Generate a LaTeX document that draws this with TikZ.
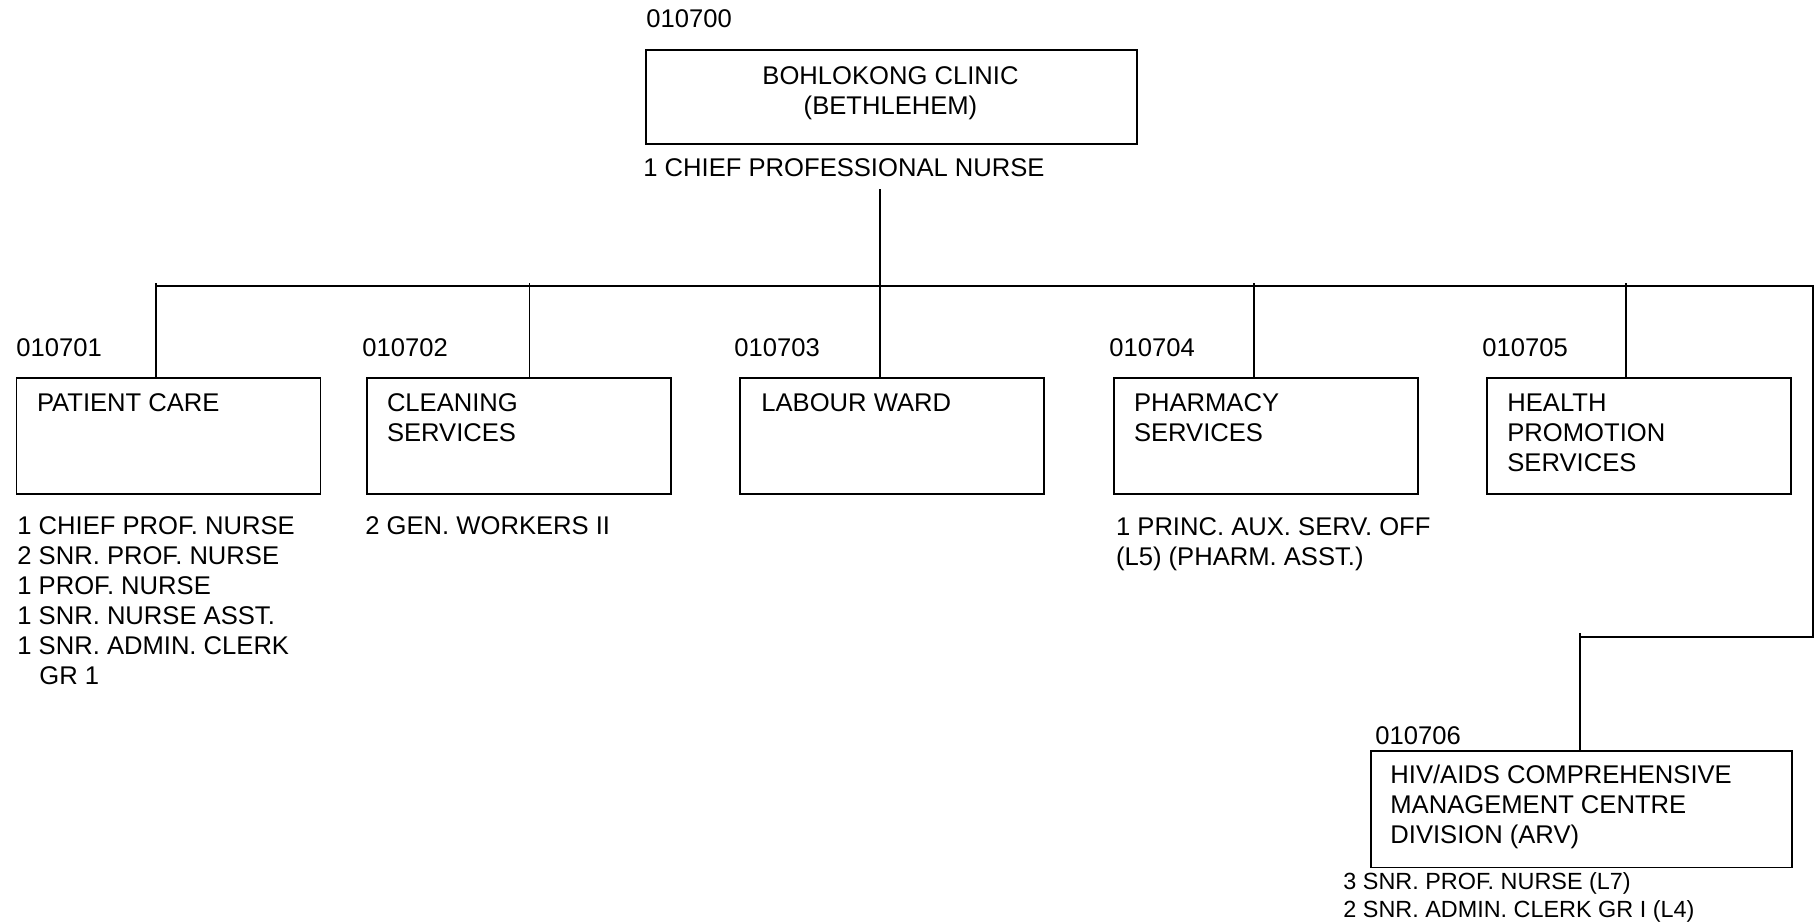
\documentclass[tikz,border=0pt]{standalone}
\usepackage{fontspec}
\setmainfont{Liberation Sans}
\begin{document}
\begin{tikzpicture}[x=0.5pt,y=-0.5pt,
  box/.style={draw, line width=0.9pt, inner sep=0pt, anchor=north west, minimum width=152pt, minimum height=58.2pt},
  lbl/.style={anchor=base west, inner sep=0pt, font=\fontsize{12.8}{15}\selectfont, align=left},
  small/.style={anchor=base west, inner sep=0pt, font=\fontsize{11.7}{14}\selectfont, align=left},
  conn/.style={line width=0.9pt}]
\useasboundingbox (0,0) rectangle (1820,923);

% top
\node[lbl] (c0) at (646,27) {010700};
\node[box, minimum width=245.5pt, minimum height=47pt] (b0) at (645,49.3) {};
\node[lbl, anchor=base, align=center] (t0) at (890.5,114) {BOHLOKONG CLINIC\\(BETHLEHEM)};
\node[lbl] (s0) at (643,176) {1 CHIEF PROFESSIONAL NURSE};

% boxes
\node[box] (b1) at (15.6,376.7) {};
\node[box] (b2) at (366,376.7) {};
\node[box] (b3) at (739,376.7) {};
\node[box] (b4) at (1113,376.7) {};
\node[box] (b5) at (1486,376.7) {};
\node[box, minimum width=210.4pt, minimum height=58.3pt] (b6) at (1370,750) {};

% codes
\node[lbl] (c1) at (16,356) {010701};
\node[lbl] (c2) at (362,356) {010702};
\node[lbl] (c3) at (734,356) {010703};
\node[lbl] (c4) at (1109,356) {010704};
\node[lbl] (c5) at (1482,356) {010705};
\node[lbl] (c6) at (1375,744) {010706};

% box texts (anchor = baseline of last line)
\node[lbl] (t1) at (36.6,411) {PATIENT CARE};
\node[lbl] (t2) at (386.6,441) {CLEANING\\SERVICES};
\node[lbl] (t3) at (761,411) {LABOUR WARD};
\node[lbl] (t4) at (1133.6,441) {PHARMACY\\SERVICES};
\node[lbl] (t5) at (1507,471) {HEALTH\\PROMOTION\\SERVICES};
\node[lbl] (t6) at (1390,843) {HIV/AIDS COMPREHENSIVE\\MANAGEMENT CENTRE\\DIVISION (ARV)};

% staff
\node[lbl] (s1) at (17,684.5) {1 CHIEF PROF. NURSE\\2 SNR. PROF. NURSE\\1 PROF. NURSE\\1 SNR. NURSE ASST.\\1 SNR. ADMIN. CLERK\\\hspace*{11pt}GR 1};
\node[lbl] (s2) at (365,534.5) {2 GEN. WORKERS II};
\node[lbl] (s4) at (1115.7,565.5) {1 PRINC. AUX. SERV. OFF\\(L5) (PHARM. ASST.)};
\node[small] (s6) at (1343,917.5) {3 SNR. PROF. NURSE (L7)\\2 SNR. ADMIN. CLERK GR I (L4)};

% connectors
\coordinate (top) at (880,189);
\coordinate (busL) at (156,286);
\coordinate (busR) at (1813,286);
\coordinate (v1) at (156,283);
\coordinate (v2) at (529.5,283);
\coordinate (v4) at (1254,283);
\coordinate (v5) at (1626,283);
\coordinate (bend) at (1813,636.7);
\coordinate (v6) at (1580,636.7);
\coordinate (v6t) at (1580,633);

\draw[conn] (top) -- (top |- b3.north);
\draw[conn] (busL) -- (busR) -- (bend) -- (v6);
\draw[conn] (v1) -- (v1 |- b1.north);
\draw[conn] (v2) -- (v2 |- b2.north);
\draw[conn] (v4) -- (v4 |- b4.north);
\draw[conn] (v5) -- (v5 |- b5.north);
\draw[conn] (v6t) -- (v6t |- b6.north);
\end{tikzpicture}
\end{document}
